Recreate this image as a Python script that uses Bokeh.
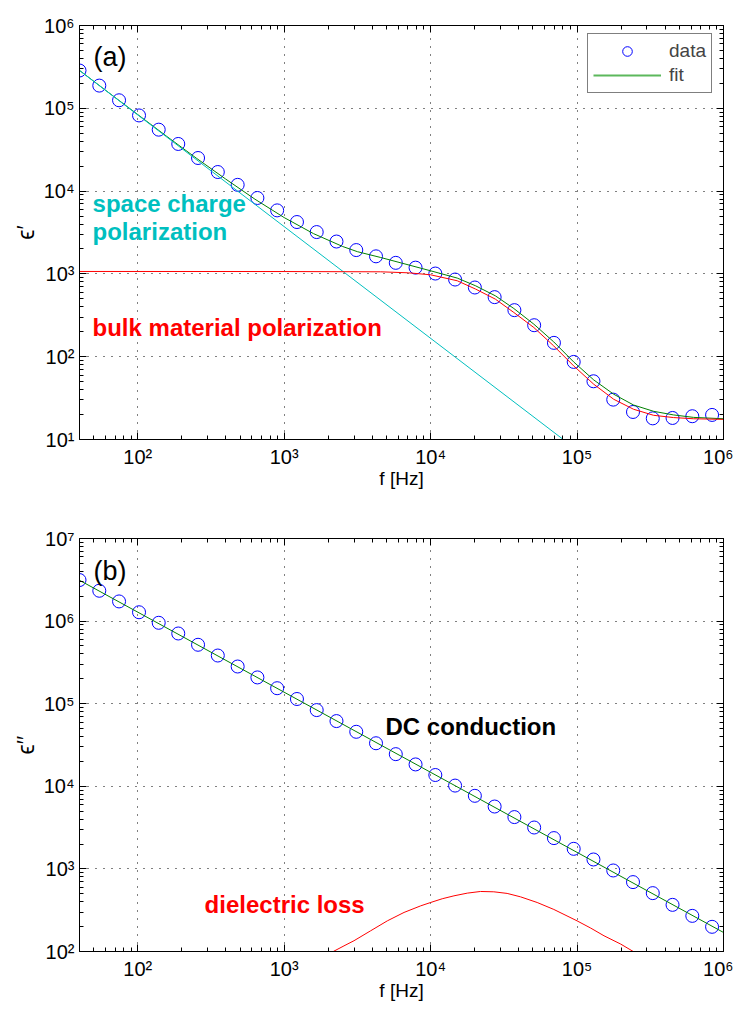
from bokeh.plotting import figure
from bokeh.models import (FixedTicker, Label, Legend, LegendItem, LogAxis,
                          CustomJSTickFormatter, Range1d, LogScale)
from bokeh.layouts import column
from bokeh.embed import file_html
from bokeh.resources import INLINE

FONT = "Liberation Sans"

# ---------------- data ----------------
freq = [40, 54.6, 74.5, 102, 139, 189, 258, 352, 481, 656, 895, 1222, 1667, 2275,
        3105, 4236, 5781, 7889, 10765, 14690, 20045, 27353, 37325, 50933, 69502,
        94842, 129420, 176604, 240991, 328852, 448745, 612350, 835603]

eps_real = [2.86e5, 1.88e5, 1.25e5, 8.2e4, 5.52e4, 3.71e4, 2.51e4, 1.70e4, 1.19e4,
            8.26e3, 5.85e3, 4.23e3, 3.20e3, 2.46e3, 1.94e3, 1.63e3, 1.36e3, 1.19e3,
            1.01e3, 855, 685, 524, 365, 240, 147, 86.5, 50.5, 30.3, 21.5, 18.0, 18.2,
            19.1, 19.8]

eps_imag = [3.14e6, 2.33e6, 1.73e6, 1.28e6, 9.54e5, 7.08e5, 5.17e5, 3.83e5, 2.82e5,
            2.08e5, 1.54e5, 1.14e5, 8.37e4, 6.16e4, 4.57e4, 3.32e4, 2.45e4, 1.84e4,
            1.37e4, 1.02e4, 7.67e3, 5.69e3, 4.24e3, 3.17e3, 2.36e3, 1.75e3, 1.30e3,
            957, 692, 509, 367, 270, 199]

fit_a_f = [40, 63, 100, 158, 251, 398, 631, 1000, 1585, 2512, 3162, 4560, 10000,
           15200, 20300, 27700, 37000, 50700, 69300, 94800, 130000, 178000, 243000,
           333000, 456000, 624000, 1000000]
fit_a_y = [2.87e5, 1.556e5, 8.4e4, 4.57e4, 2.50e4, 1.40e4, 7990, 4785, 3065, 2140,
           1855, 1578, 1090, 890, 718, 543, 382, 247, 151, 86.5, 52.4, 35.2, 26.1,
           21.9, 19.8, 18.5, 17.8]

bulk_f = [40, 1000, 4560, 7080, 10000, 15200, 20300, 27700, 37000, 50700, 69300,
          94800, 130000, 178000, 243000, 333000, 456000, 624000, 1000000]
bulk_y = [1070, 1068, 1060, 1030, 975, 826, 655, 495, 342, 225, 135, 77.5, 46.5,
          30.6, 23.2, 19.6, 18.4, 17.8, 17.5]

space_f = [40, 80500]
space_y = [2.86e5, 10]

fit_b_f = [40, 1000000]
fit_b_y = [3.12e6, 170]

loss_f = [2163, 2560, 2995, 3890, 5060, 6580, 8550, 10000, 12000, 14430, 17800,
          21900, 27000, 33300, 41100, 53400, 69400, 100000, 124000, 152700,
          198600, 242000]
loss_y = [100, 117, 135, 178, 235, 297, 357, 392, 435, 472, 509, 533, 528, 505,
          459, 392, 323, 235, 192, 155, 123, 100]

x_ticks = [100, 1000, 10000, 100000, 1000000]
x_tick_labels = ["10²", "10³", "10⁴", "10⁵", "10⁶"]
ya_ticks = [10, 100, 1000, 10000, 100000, 1000000]
ya_tick_labels = ["10¹", "10²", "10³", "10⁴", "10⁵", "10⁶"]
yb_ticks = [100, 1000, 10000, 100000, 1000000, 10000000]
yb_tick_labels = ["10²", "10³", "10⁴", "10⁵", "10⁶", "10⁷"]

BLUE = "#0000FF"
GREEN = "#008000"
LEGEND_GREEN = "#5CB85C"
RED = "#FF0000"
CYAN = "#00BFBF"


def minor_for(lo, hi):
    out = []
    for d in range(0, 9):
        for k in range(2, 10):
            v = k * 10 ** d
            if lo < v < hi:
                out.append(v)
    return out


def style_axis(ax, ticks, minor, labels=None):
    ax.ticker = FixedTicker(ticks=ticks, minor_ticks=minor)
    ax.axis_line_color = "black"
    ax.major_tick_line_color = "black"
    ax.minor_tick_line_color = "black"
    ax.major_tick_in = 7
    ax.major_tick_out = 0
    ax.minor_tick_in = 4
    ax.minor_tick_out = 0
    if labels is None:
        ax.formatter = CustomJSTickFormatter(code="return ''")
        ax.major_label_text_font_size = "1px"
        ax.major_label_standoff = 0
    else:
        ax.major_label_overrides = dict(zip(ticks, labels))
        ax.major_label_text_font = FONT
        ax.major_label_text_font_size = "20px"
        ax.major_label_text_color = "black"


def make_fig(height, y0, y1, bt, bb, yticks, ylabels, ylabel):
    p = figure(width=733, height=height, x_axis_type="log", y_axis_type="log",
               x_range=Range1d(40, 1e6), y_range=Range1d(y0, y1),
               output_backend="svg", toolbar_location=None,
               min_border_left=79, min_border_right=10,
               min_border_top=bt, min_border_bottom=bb)
    p.outline_line_color = "black"
    p.background_fill_color = "white"
    p.border_fill_color = "white"
    xminor = minor_for(40, 1e6)
    yminor = minor_for(y0, y1)
    style_axis(p.xaxis[0], x_ticks, xminor, x_tick_labels)
    style_axis(p.yaxis[0], yticks, yminor, ylabels)
    p.xaxis[0].major_label_standoff = 6
    p.yaxis[0].major_label_standoff = 5
    p.xaxis[0].axis_label = "f [Hz]"
    p.yaxis[0].axis_label = ylabel
    for ax in (p.xaxis[0], p.yaxis[0]):
        ax.axis_label_text_font = FONT
        ax.axis_label_text_font_style = "normal"
        ax.axis_label_text_color = "black"
    p.xaxis[0].axis_label_text_font_size = "19px"
    p.yaxis[0].axis_label_text_font_size = "23px"
    p.xaxis[0].axis_label_standoff = -3
    p.yaxis[0].axis_label_standoff = 2
    top = LogAxis()
    right = LogAxis()
    style_axis(top, x_ticks, xminor)
    style_axis(right, yticks, yminor)
    p.add_layout(top, "above")
    p.add_layout(right, "right")
    for g in (p.xgrid[0], p.ygrid[0]):
        g.grid_line_color = "black"
        g.grid_line_alpha = 1.0
        g.grid_line_dash = "1 7"
        g.grid_line_width = 1
    return p


def add_label(p, x, y, text, color, size, bold=True):
    p.add_layout(Label(x=x, y=y, text=text, text_color=color, text_font=FONT,
                       text_font_size=size,
                       text_font_style="bold" if bold else "normal",
                       text_align="left", text_baseline="alphabetic"))


# ---------------- panel (a) ----------------
pa = make_fig(506, 10, 1e6, 25, 67, ya_ticks, ya_tick_labels, "ϵ′")
sc = pa.scatter(freq, eps_real, marker="circle", size=13, fill_color=None,
                line_color=BLUE, line_width=1)
pa.line(fit_a_f, fit_a_y, line_color=GREEN, line_width=1)
pa.line(space_f, space_y, line_color=CYAN, line_width=1)
pa.line(bulk_f, bulk_y, line_color=RED, line_width=1)

# legend swatch for the fit: same fit data on a hidden range (drawn off-frame),
# only so that the legend sample can be the lighter, thicker green of the original
pa.extra_y_ranges = {"legend_only": Range1d(1e20, 1e21)}
pa.extra_y_scales = {"legend_only": LogScale()}
fl_legend = pa.line(fit_a_f, fit_a_y, line_color=LEGEND_GREEN, line_width=2,
                    y_range_name="legend_only")

legend = Legend(items=[LegendItem(label="data", renderers=[sc]),
                       LegendItem(label="fit", renderers=[fl_legend])],
                location=(508, 346), orientation="vertical",
                glyph_width=68, glyph_height=24, label_height=24,
                label_standoff=8, spacing=0, padding=5, margin=0,
                border_line_color="black", border_line_width=1,
                background_fill_color="white", background_fill_alpha=1,
                label_text_font=FONT, label_text_font_size="19px")
pa.add_layout(legend)

add_label(pa, 49.9, 4.14e5, "(a)", "black", "27px", bold=False)
add_label(pa, 49.1, 7.14e3, "space charge", CYAN, "24px")
add_label(pa, 49.1, 3.25e3, "polarization", CYAN, "24px")
add_label(pa, 49.1, 223, "bulk material polarization", RED, "24px")

# ---------------- panel (b) ----------------
pb = make_fig(508, 100, 1e7, 32, 63, yb_ticks, yb_tick_labels, "ϵ′′")
pb.scatter(freq, eps_imag, marker="circle", size=13, fill_color=None,
           line_color=BLUE, line_width=1)
pb.line(fit_b_f, fit_b_y, line_color=GREEN, line_width=1)
pb.line(loss_f, loss_y, line_color=RED, line_width=1)

add_label(pb, 49.9, 4.06e6, "(b)", "black", "27px", bold=False)
add_label(pb, 4920, 5.30e4, "DC conduction", "black", "24px")
add_label(pb, 286, 367, "dielectric loss", RED, "24px")

layout = column(pa, pb, spacing=0)
open("out.html", "w").write(file_html(layout, INLINE))
